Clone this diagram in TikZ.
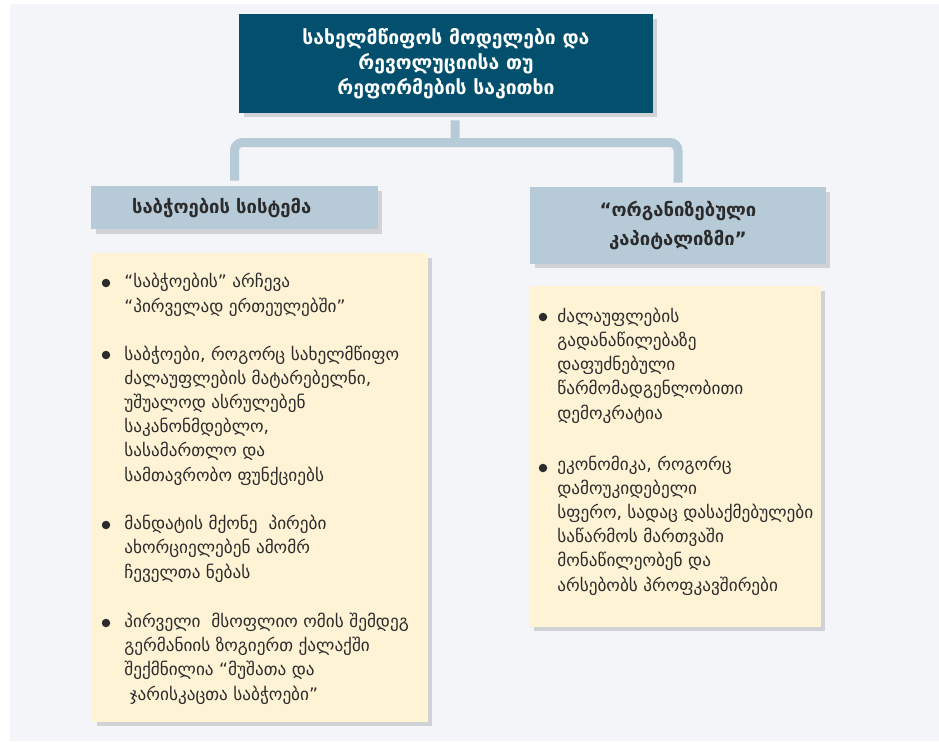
\documentclass[tikz,border=0pt]{standalone}
\usepackage{fontspec}
\newfontfamily\geo{DejaVu Sans}
\usetikzlibrary{positioning,shadows}
\definecolor{topblue}{HTML}{02506E}
\definecolor{paleblue}{HTML}{B7CAD8}
\definecolor{cream}{HTML}{FFF3D6}
\definecolor{panel}{HTML}{F4F5F9}
\definecolor{ink}{HTML}{2B2B2B}

\tikzset{
  shade box/.style={drop shadow={shadow xshift=0.09cm, shadow yshift=-0.09cm, opacity=0.14, fill=black}},
  titlebox/.style={shade box, fill=topblue, text=white, align=center, inner sep=0pt,
    font=\geo\bfseries\fontsize{11}{14.2}\selectfont},
  headbox/.style={shade box, fill=paleblue, text=ink, inner sep=0pt,
    font=\geo\bfseries\fontsize{10.5}{17}\selectfont},
  listbox/.style={shade box, fill=cream, inner sep=0pt},
  item/.style={anchor=base west, inner sep=0pt, align=left, text=ink,
    font=\geo\fontsize{9.8}{13.77}\selectfont},
  dot/.style={circle, fill=ink, inner sep=0pt, minimum size=0.17cm},
  link/.style={paleblue, line width=0.18cm, rounded corners=0.16cm}
}

\begin{document}
\begin{tikzpicture}[x=0.02cm, y=-0.02cm]
  \useasboundingbox (0,0) rectangle (939,741);
  \fill[white] (0,0) rectangle (939,741);
  \fill[panel] (10,4) rectangle (939,741);

  \node[titlebox, minimum width=8.28cm, minimum height=1.98cm] (top) at (446,63.5)
    {სახელმწიფოს მოდელები და\\რევოლუციისა თუ\\რეფორმების საკითხი};

  \node[headbox, minimum width=5.74cm, minimum height=0.86cm, text width=4.1cm,
    inner xsep=0.82cm, align=left] (lhead) at (234.5,207.5) {საბჭოების სისტემა};
  \node[headbox, minimum width=5.92cm, minimum height=1.54cm, align=center] (rhead)
    at (678,225.5) {“ორგანიზებული\\კაპიტალიზმი”};

  \coordinate (bar) at (455,142.5);
  \draw[link] ([xshift=0.18cm, yshift=-0.14cm]top.south) -- (bar);
  \draw[link] ([yshift=0.1cm]lhead.north) |- (bar) -| ([yshift=0.08cm]rhead.north);

  \node[listbox, minimum width=6.72cm, minimum height=9.38cm] (lbox) at (260,487.5) {};
  \node[listbox, minimum width=5.84cm, minimum height=6.82cm] (rbox) at (675,456.5) {};

  % base anchor sits on the last line
  \node[item] (l1) at (124,312) {“საბჭოების” არჩევა\\“პირველად ერთეულებში”};
  \node[item] (l2) at (124,481) {საბჭოები, როგორც სახელმწიფო\\ძალაუფლების მატარებელნი,\\უშუალოდ ასრულებენ\\საკანონმდებლო,\\სასამართლო და\\სამთავრობო ფუნქციებს};
  \node[item] (l3) at (124,578) {მანდატის მქონე\ \ პირები\\ახორციელებენ ამომრ\\ჩეველთა ნებას};
  \node[item] (l4) at (124,700) {პირველი\ \ მსოფლიო ომის შემდეგ\\გერმანიის ზოგიერთ ქალაქში\\შექმნილია “მუშათა და\\\ ჯარისკაცთა საბჭოები”};

  \node[item] (r1) at (557,419) {ძალაუფლების\\გადანაწილებაზე\\დაფუძნებული\\წარმომადგენლობითი\\დემოკრატია};
  \node[item] (r2) at (557,591) {ეკონომიკა, როგორც\\დამოუკიდებელი\\სფერო, სადაც დასაქმებულები\\საწარმოს მართვაში\\მონაწილეობენ და\\არსებობს პროფკავშირები};

  \foreach \n/\y in {l1/283, l2/355, l3/525, l4/623}
    \node[dot] (\n dot) at (106,\y) {};
  \foreach \n/\y in {r1/317, r2/468}
    \node[dot] (\n dot) at (543,\y) {};
\end{tikzpicture}
\end{document}
